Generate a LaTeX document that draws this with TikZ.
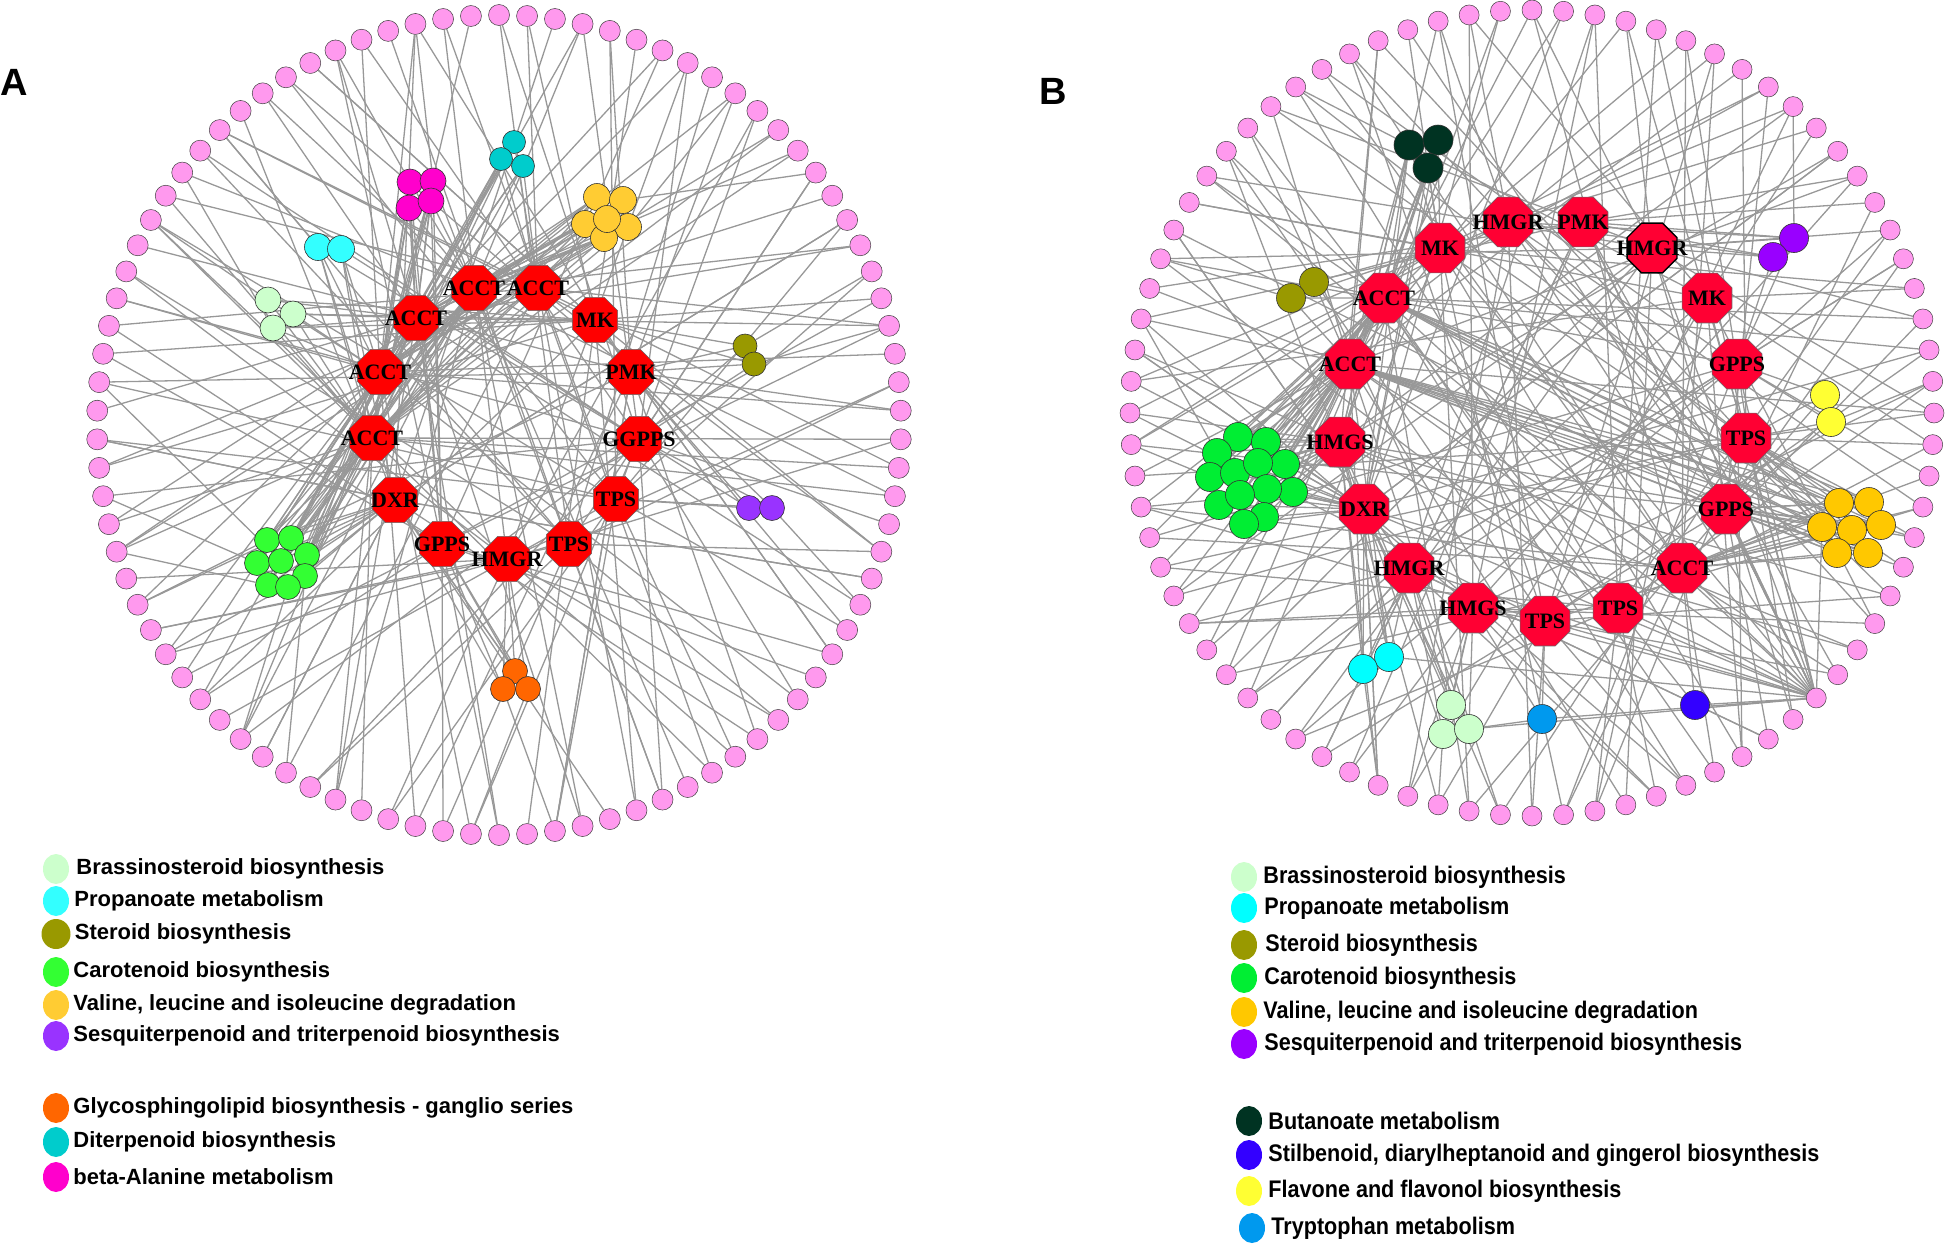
\documentclass[tikz,border=0pt]{standalone}
\usepackage{fontspec}
\setmainfont{Liberation Sans}
\newfontfamily\enzfont{Liberation Serif}
\newfontfamily\condsans[FakeStretch=0.9]{Liberation Sans}
\usepackage{tikz}
\usetikzlibrary{positioning,shapes.geometric}
\pgfdeclarelayer{background}
\pgfsetlayers{background,main}

\definecolor{ringpink}{RGB}{255,153,238}
\definecolor{edgegray}{RGB}{152,152,152}
\definecolor{redA}{RGB}{255,0,0}
\definecolor{redB}{RGB}{255,0,51}
\definecolor{braC}{RGB}{204,255,204}
\definecolor{proA}{RGB}{51,255,255}
\definecolor{proB}{RGB}{0,255,255}
\definecolor{steC}{RGB}{153,153,0}
\definecolor{carA}{RGB}{51,255,51}
\definecolor{carB}{RGB}{0,238,51}
\definecolor{valA}{RGB}{255,204,51}
\definecolor{valB}{RGB}{255,200,0}
\definecolor{sesA}{RGB}{153,51,255}
\definecolor{sesB}{RGB}{153,0,255}
\definecolor{glyC}{RGB}{255,102,0}
\definecolor{ditC}{RGB}{0,204,204}
\definecolor{balC}{RGB}{255,0,204}
\definecolor{butC}{RGB}{0,51,34}
\definecolor{stiC}{RGB}{51,0,255}
\definecolor{flaC}{RGB}{255,255,51}
\definecolor{tryC}{RGB}{0,153,238}

\begin{document}
\begin{tikzpicture}[
    x=1pt, y=-1pt,
    edge/.style={draw=edgegray, line width=1.3pt},
    ringA/.style={circle, fill=ringpink, draw=black!75, line width=0.5pt, minimum size=21pt, inner sep=0pt},
    ringB/.style={ringA, minimum size=20pt},
    hub/.style={regular polygon, regular polygon sides=8, draw=black!60, line width=0.6pt, inner sep=0pt,
        font=\enzfont\bfseries\fontsize{22pt}{24pt}\selectfont,
        execute at begin node={\hbox to 0pt\bgroup\hss}, execute at end node={\hss\egroup}},
    hubA/.style={hub, fill=redA, minimum size=49pt},
    hubB/.style={hub, fill=redB, minimum size=54pt},
    clus/.style={circle, draw=black!80, line width=0.6pt, inner sep=0pt, minimum size=25pt},
    clusB/.style={clus, minimum size=29pt},
    legdot/.style={ellipse, minimum width=26pt, minimum height=30pt, inner sep=0pt},
    legA/.style={font=\bfseries\fontsize{22pt}{26pt}\selectfont, inner sep=0pt},
    legB/.style={font=\condsans\bfseries\fontsize{24pt}{28pt}\selectfont, inner sep=0pt},
    tag/.style={font=\bfseries\fontsize{38pt}{40pt}\selectfont, inner sep=0pt}
]
\useasboundingbox (0,0) rectangle (1947,1248);

% panel letters
\node[tag] (tagA) at (14,82) {A};
\node[tag] (tagB) at (1053,91) {B};

% ===== panel A =====
\foreach \i in {1,...,90}
  \node[ringA] (a\i) at ({499+402*cos(94-4*\i)},{425-410*sin(94-4*\i)}) {};

\node[hubA] (hA1) at (474,288) {ACCT};
\node[hubA] (hA2) at (538,288) {ACCT};
\node[hubA] (hA3) at (416,318) {ACCT};
\node[hubA] (hA4) at (595,320) {MK};
\node[hubA] (hA5) at (380,372) {ACCT};
\node[hubA] (hA6) at (631,372) {PMK};
\node[hubA] (hA7) at (372,438) {ACCT};
\node[hubA] (hA8) at (639,439) {GGPPS};
\node[hubA] (hA9) at (395,500) {DXR};
\node[hubA] (hA10) at (616,499) {TPS};
\node[hubA] (hA11) at (442,544) {GPPS};
\node[hubA] (hA12) at (569,544) {TPS};
\node[hubA] (hA13) at (507,559) {HMGR};

\node[clus, fill=braC, minimum size=26pt] (aBra1) at (268,300) {};
\node[clus, fill=braC, minimum size=26pt] (aBra2) at (293,314) {};
\node[clus, fill=braC, minimum size=26pt] (aBra3) at (273,328) {};
\node[clus, fill=proA, minimum size=27pt] (aPro1) at (318,247) {};
\node[clus, fill=proA, minimum size=27pt] (aPro2) at (341,249) {};
\node[clus, fill=steC, minimum size=24pt] (aSte1) at (745,346) {};
\node[clus, fill=steC, minimum size=24pt] (aSte2) at (754,364) {};
\node[clus, fill=carA] (aCar1) at (267,540) {};
\node[clus, fill=carA] (aCar2) at (291,538) {};
\node[clus, fill=carA] (aCar3) at (307,555) {};
\node[clus, fill=carA] (aCar4) at (257,563) {};
\node[clus, fill=carA] (aCar5) at (281,561) {};
\node[clus, fill=carA] (aCar6) at (305,576) {};
\node[clus, fill=carA] (aCar7) at (268,585) {};
\node[clus, fill=carA] (aCar8) at (288,587) {};
\node[clus, fill=valA, minimum size=27pt] (aVal1) at (597,197) {};
\node[clus, fill=valA, minimum size=27pt] (aVal2) at (623,200) {};
\node[clus, fill=valA, minimum size=27pt] (aVal3) at (585,224) {};
\node[clus, fill=valA, minimum size=27pt] (aVal4) at (628,227) {};
\node[clus, fill=valA, minimum size=27pt] (aVal5) at (604,238) {};
\node[clus, fill=valA, minimum size=27pt] (aVal6) at (607,219) {};
\node[clus, fill=sesA] (aSes1) at (749,508) {};
\node[clus, fill=sesA] (aSes2) at (772,508) {};
\node[clus, fill=glyC] (aGly1) at (515,671) {};
\node[clus, fill=glyC] (aGly2) at (503,689) {};
\node[clus, fill=glyC] (aGly3) at (528,689) {};
\node[clus, fill=ditC, minimum size=23pt] (aDit1) at (514,142) {};
\node[clus, fill=ditC, minimum size=23pt] (aDit2) at (501,159) {};
\node[clus, fill=ditC, minimum size=23pt] (aDit3) at (523,166) {};
\node[clus, fill=balC, minimum size=26pt] (aBal1) at (410,182) {};
\node[clus, fill=balC, minimum size=26pt] (aBal2) at (433,181) {};
\node[clus, fill=balC, minimum size=26pt] (aBal3) at (409,208) {};
\node[clus, fill=balC, minimum size=26pt] (aBal4) at (431,201) {};

\begin{pgfonlayer}{background}
\foreach \i in {1,...,90}{
  \pgfmathtruncatemacro\j{mod(7*\i,13)+1}
  \pgfmathtruncatemacro\k{mod(5*\i+6,13)+1}
  \pgfmathtruncatemacro\l{mod(11*\i+2,13)+1}
  \pgfmathtruncatemacro\m{mod(\i,3)}
  \pgfmathtruncatemacro\q{mod(\i,4)}
  \draw[edge] (a\i) -- (hA\j);
  \ifnum\m>0 \draw[edge] (a\i) -- (hA\k);\fi
  \ifnum\q=0 \draw[edge] (a\i) -- (hA\l);\fi
}
\foreach \n in {1,...,8} \foreach \h in {1,3,5,7,9} \draw[edge] (aCar\n) -- (hA\h);
\foreach \n/\r in {1/62,2/58,3/54,4/66,5/70,6/60,7/64,8/56} \draw[edge] (aCar\n) -- (a\r);
\foreach \n in {1,...,4} \foreach \h in {1,3,5,7,11} \draw[edge] (aBal\n) -- (hA\h);
\foreach \n in {1,2,3} \foreach \h in {2,3,5,7} \draw[edge] (aDit\n) -- (hA\h);
\foreach \n in {1,...,6} \foreach \h in {1,3,5,7} \draw[edge] (aVal\n) -- (hA\h);
\foreach \n in {1,2} \foreach \h in {5,7,8,9} \draw[edge] (aPro\n) -- (hA\h);
\foreach \n in {1,2,3} \foreach \h in {3,4,5,7} \draw[edge] (aBra\n) -- (hA\h);
\foreach \n in {1,2} \foreach \h in {4,6,8} \draw[edge] (aSte\n) -- (hA\h);
\foreach \n in {1,2} \foreach \h in {6,8,10} \draw[edge] (aSes\n) -- (hA\h);
\foreach \n in {1,2,3} \foreach \h in {9,11,13} \draw[edge] (aGly\n) -- (hA\h);
\draw[edge] (aBal1) -- (a85);
\draw[edge] (aBal2) -- (a88);
\draw[edge] (aVal2) -- (a14);
\draw[edge] (aVal4) -- (a10);
\draw[edge] (aPro1) -- (a80);
\draw[edge] (aBra1) -- (a76);
\draw[edge] (aBra3) -- (a78);
\draw[edge] (aSte1) -- (a18);
\draw[edge] (aSte2) -- (a20);
\draw[edge] (aSes2) -- (a30);
\draw[edge] (aGly2) -- (a44);
\draw[edge] (aGly3) -- (a47);
\end{pgfonlayer}

% ===== panel B =====
\foreach \i in {1,...,80}
  \node[ringB] (b\i) at ({1532+402*cos(94.5-4.5*\i)},{413-403*sin(94.5-4.5*\i)}) {};

\node[hubB] (hB1) at (1440,248) {MK};
\node[hubB] (hB2) at (1508,222) {HMGR};
\node[hubB] (hB3) at (1583,222) {PMK};
\node[hubB, draw=black, line width=1.4pt] (hB4) at (1652,248) {HMGR};
\node[hubB] (hB5) at (1707,298) {MK};
\node[hubB] (hB6) at (1384,298) {ACCT};
\node[hubB] (hB7) at (1350,364) {ACCT};
\node[hubB] (hB8) at (1737,364) {GPPS};
\node[hubB] (hB9) at (1746,438) {TPS};
\node[hubB] (hB10) at (1340,442) {HMGS};
\node[hubB] (hB11) at (1364,509) {DXR};
\node[hubB] (hB12) at (1726,509) {GPPS};
\node[hubB] (hB13) at (1409,568) {HMGR};
\node[hubB] (hB14) at (1682,568) {ACCT};
\node[hubB] (hB15) at (1473,608) {HMGS};
\node[hubB] (hB16) at (1618,608) {TPS};
\node[hubB] (hB17) at (1545,621) {TPS};

\node[clusB, fill=butC, minimum size=30pt] (bBut1) at (1409,145) {};
\node[clusB, fill=butC, minimum size=30pt] (bBut2) at (1438,140) {};
\node[clusB, fill=butC, minimum size=30pt] (bBut3) at (1428,168) {};
\node[clusB, fill=steC] (bSte1) at (1314,282) {};
\node[clusB, fill=steC] (bSte2) at (1291,298) {};
\node[clusB, fill=sesB] (bSes1) at (1794,238) {};
\node[clusB, fill=sesB] (bSes2) at (1773,257) {};
\node[clusB, fill=flaC] (bFla1) at (1825,395) {};
\node[clusB, fill=flaC] (bFla2) at (1831,422) {};
\node[clusB, fill=carB] (bCar1) at (1238,437) {};
\node[clusB, fill=carB] (bCar2) at (1266,442) {};
\node[clusB, fill=carB] (bCar3) at (1217,453) {};
\node[clusB, fill=carB] (bCar4) at (1285,464) {};
\node[clusB, fill=carB] (bCar5) at (1210,477) {};
\node[clusB, fill=carB] (bCar6) at (1235,473) {};
\node[clusB, fill=carB] (bCar7) at (1258,463) {};
\node[clusB, fill=carB] (bCar8) at (1293,492) {};
\node[clusB, fill=carB] (bCar9) at (1267,489) {};
\node[clusB, fill=carB] (bCar10) at (1219,505) {};
\node[clusB, fill=carB] (bCar11) at (1240,495) {};
\node[clusB, fill=carB] (bCar12) at (1264,517) {};
\node[clusB, fill=carB] (bCar13) at (1244,524) {};
\node[clusB, fill=valB] (bVal1) at (1839,503) {};
\node[clusB, fill=valB] (bVal2) at (1869,502) {};
\node[clusB, fill=valB] (bVal3) at (1822,527) {};
\node[clusB, fill=valB] (bVal4) at (1881,525) {};
\node[clusB, fill=valB] (bVal5) at (1852,530) {};
\node[clusB, fill=valB] (bVal6) at (1837,553) {};
\node[clusB, fill=valB] (bVal7) at (1868,553) {};
\node[clusB, fill=proB] (bPro1) at (1389,657) {};
\node[clusB, fill=proB] (bPro2) at (1363,669) {};
\node[clusB, fill=braC] (bBra1) at (1451,705) {};
\node[clusB, fill=braC] (bBra2) at (1443,734) {};
\node[clusB, fill=braC] (bBra3) at (1469,729) {};
\node[clusB, fill=tryC] (bTry) at (1542,719) {};
\node[clusB, fill=stiC] (bSti) at (1695,705) {};

\begin{pgfonlayer}{background}
\foreach \i in {1,...,80}{
  \pgfmathtruncatemacro\j{mod(5*\i,17)+1}
  \pgfmathtruncatemacro\k{mod(9*\i+4,17)+1}
  \pgfmathtruncatemacro\l{mod(13*\i+7,17)+1}
  \pgfmathtruncatemacro\m{mod(\i,3)}
  \draw[edge] (b\i) -- (hB\j);
  \draw[edge] (b\i) -- (hB\k);
  \ifnum\m<2 \draw[edge] (b\i) -- (hB\l);\fi
}
\foreach \h in {1,...,17} \draw[edge] (b31) -- (hB\h);
\foreach \n in {1,...,13} \foreach \h in {6,7,10,11} \draw[edge] (bCar\n) -- (hB\h);
\foreach \n/\r in {1/62,3/64,5/60,8/58,10/56,12/54} \draw[edge] (bCar\n) -- (b\r);
\foreach \n in {1,...,7} \foreach \h in {6,7,9,12,14} \draw[edge] (bVal\n) -- (hB\h);
\foreach \n in {1,2,3} \foreach \h in {1,6,7,10,11} \draw[edge] (bBut\n) -- (hB\h);
\foreach \n in {1,2} \foreach \h in {1,6,7} \draw[edge] (bSte\n) -- (hB\h);
\foreach \n in {1,2} \foreach \h in {2,3,4,8} \draw[edge] (bSes\n) -- (hB\h);
\foreach \n in {1,2} \foreach \h in {8,9,12} \draw[edge] (bFla\n) -- (hB\h);
\foreach \n in {1,2} \foreach \h in {7,10,11,13} \draw[edge] (bPro\n) -- (hB\h);
\foreach \n in {1,2,3} \foreach \h in {11,13,15} \draw[edge] (bBra\n) -- (hB\h);
\foreach \h in {15,17} \draw[edge] (bTry) -- (hB\h);
\foreach \h in {14,16} \draw[edge] (bSti) -- (hB\h);
\draw[edge] (bVal3) -- (b31);
\draw[edge] (bSte2) -- (b66);
\draw[edge] (bSes1) -- (b10);
\draw[edge] (bFla2) -- (b20);
\draw[edge] (bPro2) -- (b46);
\draw[edge] (bPro1) -- (b31);
\draw[edge] (bBra3) -- (b31);
\draw[edge] (bBra2) -- (b44);
\draw[edge] (bTry) -- (b31);
\draw[edge] (bTry) -- (bBra3);
\draw[edge] (bSti) -- (b31);
\end{pgfonlayer}

% ===== legend A =====
\node[legdot, fill=braC] (kA1) at (56,869) {};
\node[legA, right=7pt of kA1] (lA1) {Brassinosteroid biosynthesis};
\node[legdot, fill=proA] (kA2) at (56,901) {};
\node[legA, right=5pt of kA2] (lA2) {Propanoate metabolism};
\node[legdot, fill=steC, minimum width=29pt] (kA3) at (56,934) {};
\node[legA, right=4pt of kA3] (lA3) {Steroid biosynthesis};
\node[legdot, fill=carA] (kA4) at (56,972) {};
\node[legA, right=4pt of kA4] (lA4) {Carotenoid biosynthesis};
\node[legdot, fill=valA] (kA5) at (56,1005) {};
\node[legA, right=4pt of kA5] (lA5) {Valine, leucine and isoleucine degradation};
\node[legdot, fill=sesA] (kA6) at (56,1036) {};
\node[legA, right=4pt of kA6] (lA6) {Sesquiterpenoid and triterpenoid biosynthesis};
\node[legdot, fill=glyC] (kA7) at (56,1108) {};
\node[legA, right=4pt of kA7] (lA7) {Glycosphingolipid biosynthesis - ganglio series};
\node[legdot, fill=ditC] (kA8) at (56,1142) {};
\node[legA, right=4pt of kA8] (lA8) {Diterpenoid biosynthesis};
\node[legdot, fill=balC] (kA9) at (56,1177) {};
\node[legA, right=4pt of kA9] (lA9) {beta-Alanine metabolism};

% ===== legend B =====
\node[legdot, fill=braC] (kB1) at (1244,877) {};
\node[legB, right=6pt of kB1] (lB1) {Brassinosteroid biosynthesis};
\node[legdot, fill=proB] (kB2) at (1244,908) {};
\node[legB, right=7pt of kB2] (lB2) {Propanoate metabolism};
\node[legdot, fill=steC] (kB3) at (1244,945) {};
\node[legB, right=8pt of kB3] (lB3) {Steroid biosynthesis};
\node[legdot, fill=carB] (kB4) at (1244,978) {};
\node[legB, right=7pt of kB4] (lB4) {Carotenoid biosynthesis};
\node[legdot, fill=valB] (kB5) at (1244,1012) {};
\node[legB, right=6pt of kB5] (lB5) {Valine, leucine and isoleucine degradation};
\node[legdot, fill=sesB] (kB6) at (1244,1044) {};
\node[legB, right=7pt of kB6] (lB6) {Sesquiterpenoid and triterpenoid biosynthesis};
\node[legdot, fill=butC] (kB7) at (1249,1121) {};
\node[legB, right=6pt of kB7] (lB7) {Butanoate metabolism};
\node[legdot, fill=stiC] (kB8) at (1249,1155) {};
\node[legB, right=6pt of kB8] (lB8) {Stilbenoid, diarylheptanoid and gingerol biosynthesis};
\node[legdot, fill=flaC] (kB9) at (1249,1191) {};
\node[legB, right=6pt of kB9] (lB9) {Flavone and flavonol biosynthesis};
\node[legdot, fill=tryC] (kB10) at (1252,1228) {};
\node[legB, right=6pt of kB10] (lB10) {Tryptophan metabolism};
\end{tikzpicture}
\end{document}
